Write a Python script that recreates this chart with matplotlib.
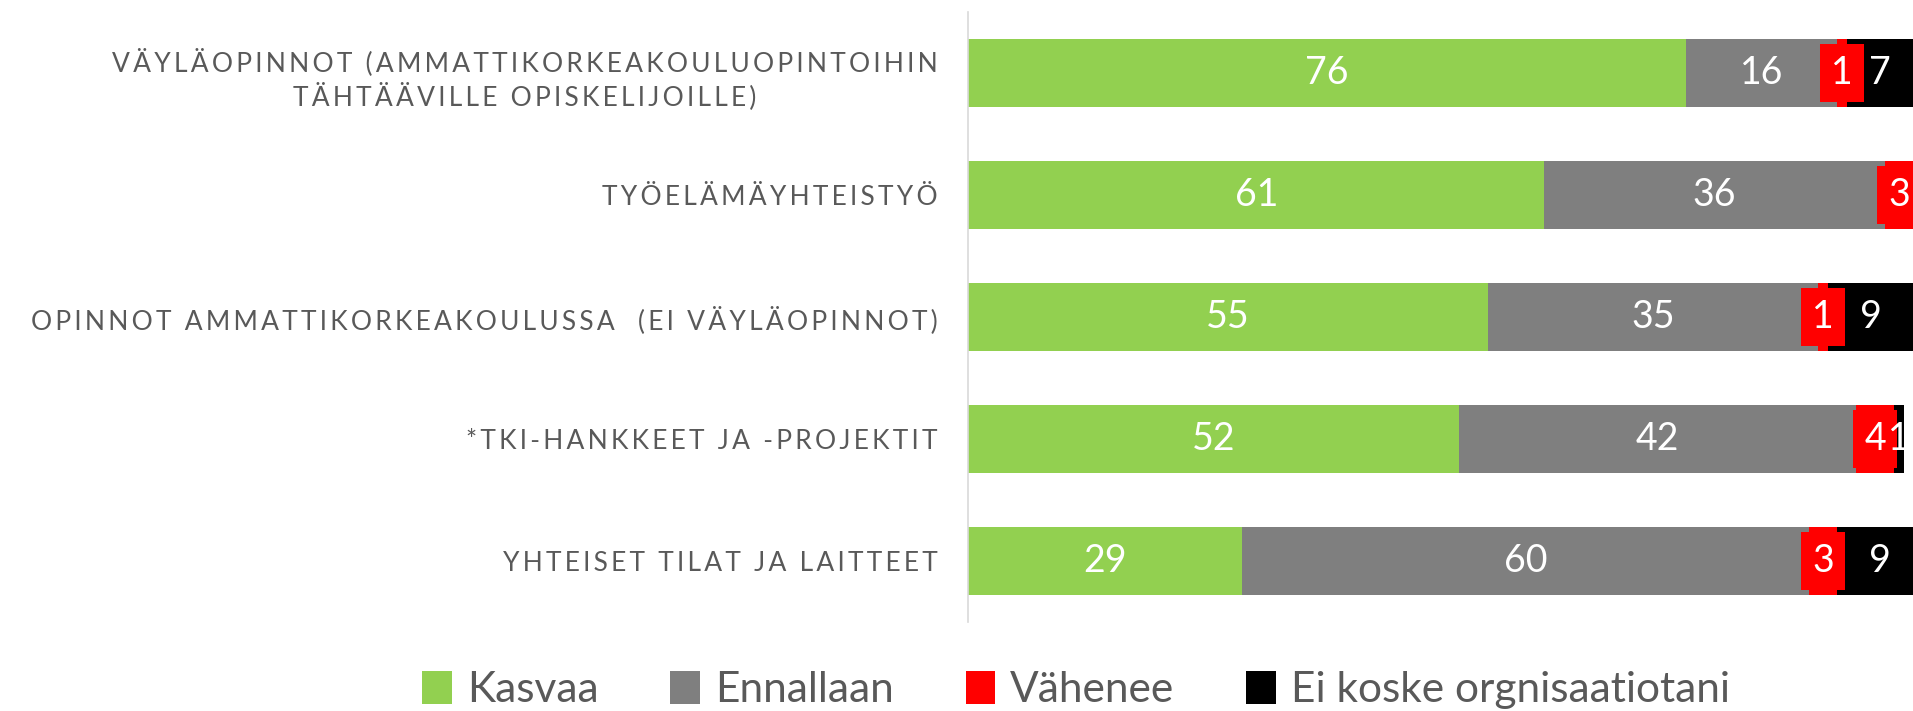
import matplotlib.pyplot as plt
from matplotlib.patches import Patch

# data
categories = [
    "VÄYLÄOPINNOT (AMMATTIKORKEAKOULUOPINTOIHIN\nTÄHTÄÄVILLE OPISKELIJOILLE)",
    "TYÖELÄMÄYHTEISTYÖ",
    "OPINNOT AMMATTIKORKEAKOULUSSA  (EI VÄYLÄOPINNOT)",
    "*TKI-HANKKEET JA -PROJEKTIT",
    "YHTEISET TILAT JA LAITTEET",
]
kasvaa = [76, 61, 55, 52, 29]
ennallaan = [16, 36, 35, 42, 60]
vahenee = [1, 3, 1, 4, 3]
ei_koske = [7, 0, 9, 1, 9]

series_names = ["Kasvaa", "Ennallaan", "Vähenee", "Ei koske orgnisaatiotani"]
colors = ["#92D050", "#7F7F7F", "#FF0000", "#000000"]

txt_color = "#595959"
font = ["Lato", "DejaVu Sans"]


def spaced(s):
    # imitate the wide letter spacing of the labels
    return "\n".join("\u200a\u200a".join(line) for line in s.split("\n"))


fig = plt.figure(figsize=(19.13, 7.11), dpi=100)
ax = fig.add_axes([0.506, 0.125, 0.494, 0.858])

ypos = list(range(len(categories)))
left = [0] * len(categories)
for vals, col in zip([kasvaa, ennallaan, vahenee, ei_koske], colors):
    ax.barh(ypos, vals, left=left, height=0.56, color=col, edgecolor="none")
    for y, v, l in zip(ypos, vals, left):
        if v == 0:
            continue
        kw = {}
        if col == "#FF0000":
            kw["bbox"] = dict(boxstyle="square,pad=0.3", fc="#FF0000", ec="none")
        ax.text(l + v / 2, y, str(v), ha="center", va="center", color="white",
                fontsize=27, family=font, clip_on=False, **kw)
    left = [a + b for a, b in zip(left, vals)]

ax.set_xlim(0, 100)
ax.set_ylim(len(categories) - 0.5, -0.5)
ax.set_yticks(ypos)
ax.set_yticklabels([spaced(c) for c in categories], fontsize=19, color=txt_color,
                   family=font, multialignment="center", linespacing=1.3)
ax.tick_params(axis="y", length=0, pad=22)
ax.set_xticks([])
for s in ["top", "right", "bottom"]:
    ax.spines[s].set_visible(False)
ax.spines["left"].set_color("#D9D9D9")
ax.spines["left"].set_linewidth(1.2)

handles = [Patch(facecolor=c, edgecolor="none") for c in colors]
leg = fig.legend(handles, series_names, loc="center", bbox_to_anchor=(0.5625, 0.029),
                 ncol=4, frameon=False, handlelength=0.7, handleheight=0.8,
                 handletextpad=0.35, columnspacing=1.7, prop={"family": font, "size": 30.5})
for t in leg.get_texts():
    t.set_color(txt_color)

fig.savefig("out.png", dpi=100)
